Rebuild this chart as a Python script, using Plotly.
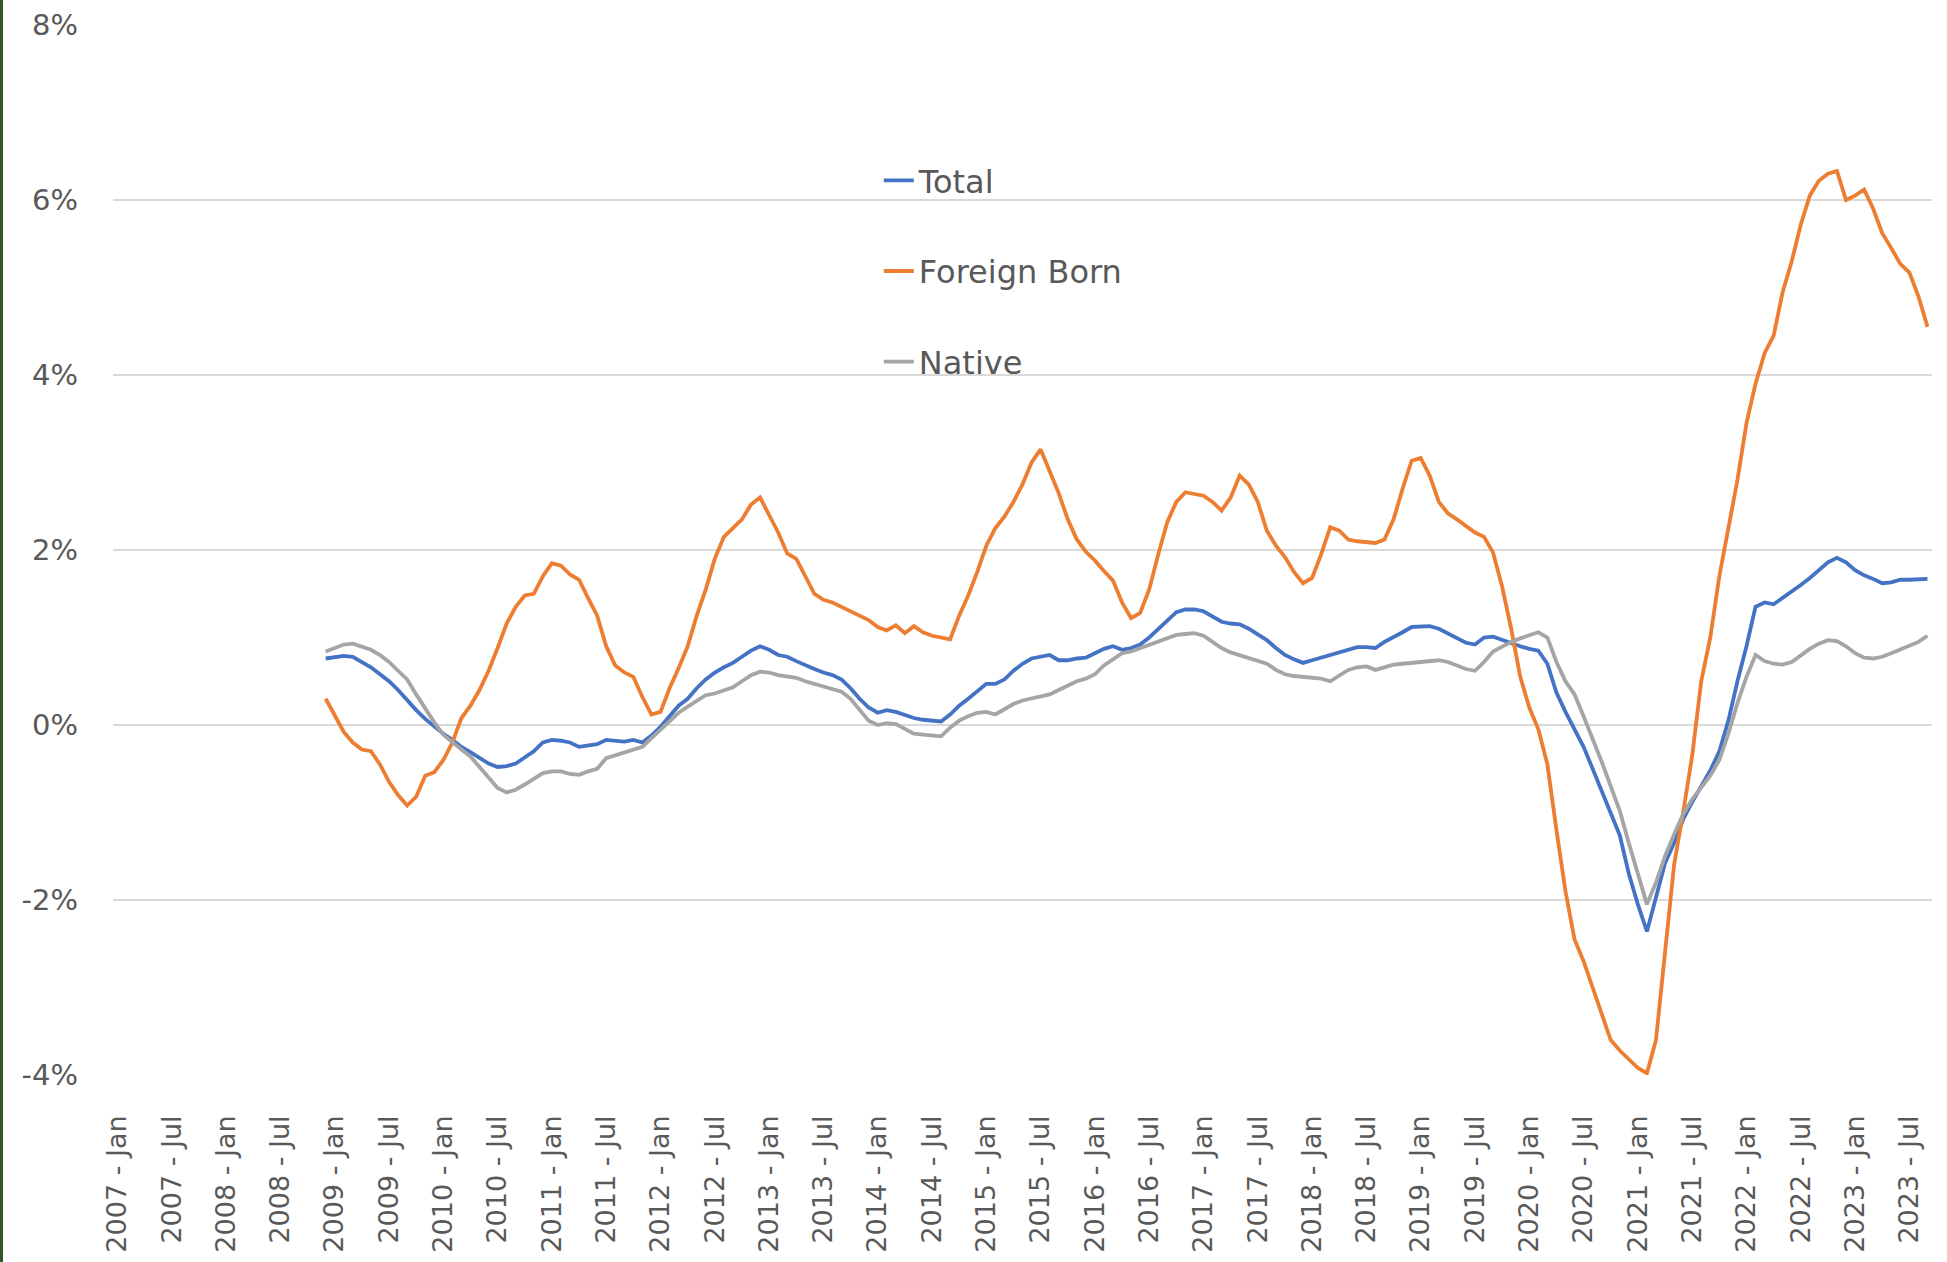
import plotly.graph_objects as go

# ── Categories: monthly, 2007 Jan .. 2023 Sep ─────────────────────────────
MONTH_NAMES = ['Jan', 'Feb', 'Mar', 'Apr', 'May', 'Jun',
               'Jul', 'Aug', 'Sep', 'Oct', 'Nov', 'Dec']
CATEGORIES = [f'{y} - {m}' for y in range(2007, 2024) for m in MONTH_NAMES][:201]
TICK_LABELS = CATEGORIES[::6]
FIRST_MONTH = '2008 - Dec'

Y_TICKS = [-4, -2, 0, 2, 4, 6, 8]
Y_TICK_LABELS = ['-4%', '-2%', '0%', '2%', '4%', '6%', '8%']

# ── Series, % change (one row per calendar year, from 2008 Dec) ───────────
TOTAL = [
    0.76,
    0.77, 0.79, 0.78, 0.72, 0.66, 0.58, 0.50, 0.40, 0.28, 0.17, 0.07, -0.02,
    -0.10, -0.17, -0.25, -0.31, -0.38, -0.44, -0.48, -0.47, -0.44, -0.37, -0.30, -0.20,
    -0.17, -0.18, -0.20, -0.25, -0.23, -0.22, -0.17, -0.18, -0.19, -0.17, -0.20, -0.12,
    -0.02, 0.10, 0.22, 0.30, 0.42, 0.52, 0.60, 0.66, 0.71, 0.78, 0.85, 0.90,
    0.86, 0.80, 0.78, 0.73, 0.68, 0.64, 0.60, 0.57, 0.52, 0.42, 0.30, 0.20,
    0.14, 0.17, 0.15, 0.11, 0.08, 0.06, 0.05, 0.04, 0.12, 0.22, 0.30, 0.38,
    0.47, 0.47, 0.52, 0.62, 0.70, 0.76, 0.78, 0.80, 0.74, 0.74, 0.76, 0.77,
    0.82, 0.87, 0.90, 0.86, 0.88, 0.92, 1.00, 1.10, 1.20, 1.29, 1.32, 1.32,
    1.30, 1.24, 1.18, 1.16, 1.15, 1.10, 1.04, 0.97, 0.88, 0.80, 0.75, 0.71,
    0.74, 0.77, 0.80, 0.82, 0.85, 0.89, 0.89, 0.88, 0.95, 1.00, 1.06, 1.12,
    1.12, 1.13, 1.10, 1.05, 1.00, 0.94, 0.92, 1.00, 1.01, 0.97, 0.93, 0.90,
    0.87, 0.85, 0.70, 0.37, 0.15, -0.06, -0.25, -0.50, -0.75, -1.00, -1.26, -1.70,
    -2.05, -2.36, -1.95, -1.58, -1.35, -1.08, -0.88, -0.70, -0.52, -0.30, 0.05, 0.50,
    0.90, 1.35, 1.40, 1.38, 1.45, 1.52, 1.60, 1.68, 1.77, 1.86, 1.91, 1.86,
    1.77, 1.71, 1.67, 1.62, 1.63, 1.66, 1.66, 1.67, 1.67,
]
FOREIGN_BORN = [
    0.30,
    0.10, -0.08, -0.20, -0.28, -0.30, -0.45, -0.65, -0.80, -0.92, -0.82, -0.58, -0.54,
    -0.40, -0.20, 0.08, 0.22, 0.40, 0.62, 0.88, 1.16, 1.35, 1.48, 1.50, 1.70,
    1.85, 1.82, 1.72, 1.66, 1.45, 1.25, 0.90, 0.68, 0.60, 0.55, 0.32, 0.12,
    0.15, 0.42, 0.65, 0.90, 1.25, 1.55, 1.90, 2.15, 2.25, 2.35, 2.52, 2.60,
    2.40, 2.20, 1.96, 1.90, 1.70, 1.50, 1.43, 1.40, 1.35, 1.30, 1.25, 1.20,
    1.12, 1.08, 1.14, 1.05, 1.13, 1.06, 1.02, 1.00, 0.98, 1.25, 1.48, 1.75,
    2.05, 2.25, 2.38, 2.55, 2.75, 3.00, 3.15, 2.90, 2.65, 2.35, 2.12, 1.98,
    1.88, 1.76, 1.65, 1.40, 1.22, 1.28, 1.55, 1.95, 2.32, 2.55, 2.66, 2.64,
    2.62, 2.55, 2.45, 2.60, 2.85, 2.75, 2.55, 2.22, 2.05, 1.92, 1.75, 1.62,
    1.68, 1.95, 2.26, 2.22, 2.12, 2.10, 2.09, 2.08, 2.12, 2.35, 2.70, 3.02,
    3.05, 2.85, 2.55, 2.42, 2.35, 2.28, 2.20, 2.15, 1.97, 1.58, 1.10, 0.55,
    0.20, -0.05, -0.45, -1.20, -1.90, -2.45, -2.70, -3.00, -3.30, -3.60, -3.72, -3.82,
    -3.92, -3.98, -3.60, -2.60, -1.60, -1.00, -0.35, 0.50, 1.00, 1.70, 2.25, 2.80,
    3.45, 3.90, 4.25, 4.45, 4.95, 5.30, 5.72, 6.05, 6.22, 6.30, 6.33, 6.00,
    6.05, 6.12, 5.90, 5.62, 5.45, 5.27, 5.17, 4.90, 4.55,
]
NATIVE = [
    0.84,
    0.88, 0.92, 0.93, 0.90, 0.86, 0.80, 0.72, 0.62, 0.52, 0.35, 0.18, 0.03,
    -0.11, -0.20, -0.28, -0.36, -0.48, -0.60, -0.72, -0.77, -0.74, -0.68, -0.61, -0.55,
    -0.53, -0.53, -0.56, -0.57, -0.53, -0.50, -0.38, -0.35, -0.32, -0.28, -0.25, -0.15,
    -0.05, 0.05, 0.14, 0.21, 0.28, 0.34, 0.36, 0.40, 0.43, 0.50, 0.57, 0.61,
    0.60, 0.57, 0.56, 0.54, 0.50, 0.47, 0.45, 0.42, 0.38, 0.30, 0.18, 0.05,
    0.00, 0.02, 0.01, -0.05, -0.10, -0.11, -0.12, -0.13, -0.03, 0.05, 0.10, 0.14,
    0.15, 0.12, 0.18, 0.24, 0.28, 0.30, 0.33, 0.35, 0.40, 0.45, 0.50, 0.53,
    0.58, 0.68, 0.75, 0.82, 0.84, 0.88, 0.91, 0.95, 0.99, 1.03, 1.04, 1.05,
    1.02, 0.95, 0.88, 0.83, 0.80, 0.77, 0.74, 0.70, 0.63, 0.58, 0.56, 0.55,
    0.54, 0.53, 0.50, 0.57, 0.63, 0.66, 0.67, 0.63, 0.66, 0.69, 0.70, 0.71,
    0.72, 0.72, 0.74, 0.72, 0.68, 0.64, 0.62, 0.72, 0.84, 0.90, 0.95, 0.99,
    1.03, 1.06, 1.00, 0.72, 0.50, 0.35, 0.10, -0.15, -0.42, -0.70, -0.98, -1.35,
    -1.70, -2.05, -1.80, -1.50, -1.25, -1.02, -0.85, -0.72, -0.58, -0.40, -0.10, 0.25,
    0.55, 0.80, 0.73, 0.70, 0.69, 0.72, 0.80, 0.87, 0.93, 0.97, 0.96, 0.90,
    0.82, 0.77, 0.76, 0.78, 0.82, 0.86, 0.90, 0.95, 1.02,
]

SERIES = [
    ('Total', TOTAL, '#4472C4'),
    ('Foreign Born', FOREIGN_BORN, '#ED7D31'),
    ('Native', NATIVE, '#A5A5A5'),
]

FONT = 'DejaVu Sans'
TEXT_GREY = '#595959'
PLOT_W = 1947 - 113 - 15


def _padded(values):
    """Put None in the months before the series starts."""
    start = CATEGORIES.index(FIRST_MONTH)
    out = [None] * start + list(values)
    return out[:len(CATEGORIES)] + [None] * (len(CATEGORIES) - len(out))


fig = go.Figure()
for name, values, color in SERIES:
    fig.add_trace(go.Scatter(
        x=CATEGORIES, y=_padded(values),
        mode='lines', name=name, legendgroup=name,
        line=dict(color=color, width=3.8),
    ))

# thin dark frame edge on the far left of the original screenshot
fig.add_shape(type='rect', xref='paper', yref='paper',
              x0=-0.1, x1=(-113 + 3) / PLOT_W, y0=-0.25, y1=1.05,
              line=dict(width=0), fillcolor='#34562A', layer='above')

fig.update_layout(
    width=1947, height=1262,
    margin=dict(l=113, r=15, t=25, b=187, autoexpand=False),
    paper_bgcolor='white', plot_bgcolor='white',
    font=dict(family=FONT, color=TEXT_GREY, size=27),
    showlegend=True,
    legend=dict(
        x=0.421, y=0.878, xanchor='left', yanchor='top',
        bgcolor='rgba(0,0,0,0)', font=dict(size=32, color=TEXT_GREY),
        tracegroupgap=46,
    ),
    xaxis=dict(
        type='category', categoryorder='array', categoryarray=CATEGORIES,
        range=[-0.5, len(CATEGORIES) - 0.5], automargin=False,
        tickmode='array', tickvals=TICK_LABELS, ticktext=TICK_LABELS,
        tickangle=-90, ticks='', showgrid=False, zeroline=False,
        showline=False, ticklabelstandoff=34,
        tickfont=dict(size=27, color=TEXT_GREY),
    ),
    yaxis=dict(
        range=[-4, 8], automargin=False,
        tickmode='array', tickvals=Y_TICKS, ticktext=Y_TICK_LABELS,
        showgrid=True, gridcolor='#D9D9D9', gridwidth=1.5,
        zeroline=False, showline=False, ticks='',
        ticklabelstandoff=34,
        tickfont=dict(size=29, color=TEXT_GREY),
    ),
)

# the page's default 8px body margin would shift the whole chart
fig.write_html('out.html', config={'displayModeBar': False},
               post_script="document.body.style.margin = '0';")
